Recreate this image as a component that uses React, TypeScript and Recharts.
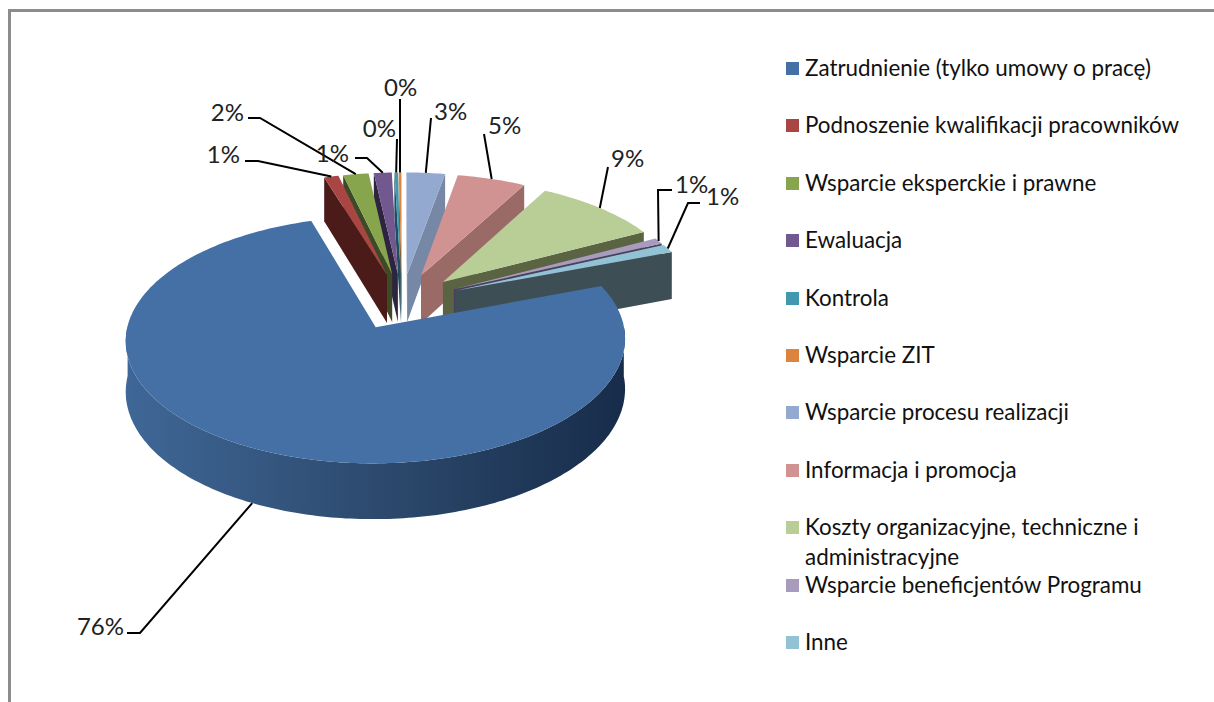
import { PieChart, Pie, Legend } from "recharts";

const categories = [
  "Zatrudnienie (tylko umowy o pracę)",
  "Podnoszenie kwalifikacji pracowników",
  "Wsparcie eksperckie i prawne",
  "Ewaluacja",
  "Kontrola",
  "Wsparcie ZIT",
  "Wsparcie procesu realizacji",
  "Informacja i promocja",
  "Koszty organizacyjne, techniczne i administracyjne",
  "Wsparcie beneficjentów Programu",
  "Inne",
];
const values = [75.9, 1.07, 1.89, 1.33, 0.26, 0.2, 2.86, 5.1, 9.4, 0.82, 1.17];
const topColors = ["#4470a6", "#a94643", "#87a54d", "#71588f", "#4198af", "#db843d", "#93a9cf", "#d19392", "#b9cd96", "#a99bbd", "#92c3d4"];
const sideColors = ["url(#mainWall)", "#4a1b18", "#3c4a25", "#2e2440", "#1f4f5c", "#8a5020", "#7788a6", "#9a6a66", "#5a6443", "#4a4060", "#3e4e55"];

// back slices first, the big one last
const paintOrder = [5, 4, 3, 6, 2, 1, 7, 8, 9, 10, 0];

// hand placed data labels: text position, then the leader elbows
const labelSpots = [
  { x: 124, y: 625, anchor: "end", line: [[127, 633], [140, 633]] },
  { x: 240, y: 153, anchor: "end", line: [[245, 161], [258, 161]] },
  { x: 244, y: 111, anchor: "end", line: [[248, 118], [260, 118]] },
  { x: 349, y: 152, anchor: "end", line: [[355, 158], [367, 158]] },
  { x: 396, y: 127, anchor: "end", line: [[397, 139]] },
  { x: 384, y: 86, anchor: "start", line: [[400, 99]] },
  { x: 434, y: 110, anchor: "start", line: [[431, 118]] },
  { x: 488, y: 124, anchor: "start", line: [[484, 134]] },
  { x: 611, y: 157, anchor: "start", line: [[608, 167]] },
  { x: 675, y: 183, anchor: "start", line: [[672, 190], [658, 190]] },
  { x: 706, y: 195, anchor: "start", line: [[700, 203], [688, 203]] },
];

const chartData = categories.map((name, i) => ({ name, value: values[i], fill: topColors[i] }));

const START_ANGLE = 20.4;
const TILT = 117 / 243; // vertical squash of the pie plane
const PERSPECTIVE = 0.1;
const EXPLODE = 0.24;
const DEPTH = 49;
const RAD = Math.PI / 180;

// pie plane (unit radius) to screen
function project(cx: number, cy: number, r: number, u: number, v: number) {
  const w = 1 / (1 - PERSPECTIVE * v);
  return { x: cx + r * u * w, y: cy + r * TILT * v * w, w };
}

function Slice3D(props: any) {
  const { cx, cy, outerRadius: r, startAngle, endAngle, fill, index } = props;
  const mid = ((startAngle + endAngle) / 2) * RAD;
  const ox = EXPLODE * Math.cos(mid);
  const oy = -EXPLODE * Math.sin(mid);
  const at = (deg: number, k = 1) =>
    project(cx, cy, r, ox + k * Math.cos(deg * RAD), oy - k * Math.sin(deg * RAD));
  const apex = at(0, 0);

  const lo = Math.min(startAngle, endAngle);
  const hi = Math.max(startAngle, endAngle);
  const rim: number[] = [];
  for (let a = hi; a > lo; a -= 1) rim.push(a);
  rim.push(lo);

  const pt = (p: { x: number; y: number }) => `${p.x.toFixed(1)},${p.y.toFixed(1)}`;
  const drop = (p: { x: number; y: number; w: number }) => ({ x: p.x, y: p.y + DEPTH * p.w, w: p.w });
  const top = `M${pt(apex)} L${rim.map((a) => pt(at(a))).join(" L")} Z`;
  const face = (deg: number) => {
    const e = at(deg);
    return `M${pt(apex)} L${pt(e)} L${pt(drop(e))} L${pt(drop(apex))} Z`;
  };

  // outer wall: only the part of the rim that faces the viewer
  const front = rim.filter((a) => Math.sin(a * RAD) <= 0.02);
  const wall =
    front.length > 1
      ? `M${front.map((a) => pt(at(a))).join(" L")} L${[...front].reverse().map((a) => pt(drop(at(a)))).join(" L")} Z`
      : null;

  const side = sideColors[index];
  return (
    <g>
      {Math.cos(hi * RAD) < 0 && <path d={face(hi)} fill={side} />}
      {Math.cos(lo * RAD) > 0 && <path d={face(lo)} fill={side} />}
      {wall && <path d={wall} fill={side} />}
      <path d={top} fill={fill} />
    </g>
  );
}

function SliceLabel(props: any) {
  const { cx, cy, outerRadius: r, midAngle, percent, index } = props;
  const a = midAngle * RAD;
  const ox = (1 + EXPLODE) * Math.cos(a);
  const oy = -(1 + EXPLODE) * Math.sin(a);
  const p = project(cx, cy, r, ox, oy);
  const spot = labelSpots[index];
  const endY = Math.sin(a) < 0 ? p.y + DEPTH * p.w : p.y;
  const points = [...spot.line, [p.x, endY]].map((q) => q.join(",")).join(" ");
  return (
    <g>
      <polyline points={points} fill="none" stroke="#000" strokeWidth={2} />
      <text x={spot.x} y={spot.y} textAnchor={spot.anchor as any} dominantBaseline="central" fontSize={24} fontFamily="Lato" fill="#222">
        {`${Math.round(percent * 100)}%`}
      </text>
    </g>
  );
}

function SideLegend() {
  return (
    <div style={{ fontFamily: "Lato", fontSize: 22.4, color: "#111", width: 400 }}>
      {categories.map((name, i) => (
        <div key={name} style={{ position: "absolute", left: 0, top: i * 57.4, width: 405, lineHeight: "30px" }}>
          <span style={{ position: "absolute", left: 0, top: 9, width: 13, height: 13, background: topColors[i] }} />
          <div style={{ marginLeft: 19, width: 385 }}>{name}</div>
        </div>
      ))}
    </div>
  );
}

export default function App() {
  return (
    <div style={{ position: "absolute", left: 0, top: 0, width: 1214, height: 702, background: "#fff" }}>
      <div style={{ position: "absolute", left: 8, top: 9, width: 1206, height: 693, borderLeft: "3px solid #8c8c8c", borderTop: "3px solid #8c8c8c", boxSizing: "border-box" }} />
      <div style={{ position: "absolute", left: 0, top: 0 }}>
        <PieChart width={1214} height={702} margin={{ top: 0, right: 0, bottom: 0, left: 0 }}>
          <defs>
            <linearGradient id="mainWall" gradientUnits="userSpaceOnUse" x1={125} y1={0} x2={625} y2={0}>
              <stop offset="0" stopColor="#3f6797" />
              <stop offset="0.5" stopColor="#2d4a6e" />
              <stop offset="1" stopColor="#172c4a" />
            </linearGradient>
          </defs>
          {paintOrder.map((idx, n) => (
            <Pie
              key={idx}
              data={chartData}
              dataKey="value"
              nameKey="name"
              cx={402}
              cy={301.5}
              outerRadius={243}
              startAngle={START_ANGLE}
              endAngle={START_ANGLE - 360}
              stroke="none"
              isAnimationActive={false}
              labelLine={false}
              label={n === paintOrder.length - 1 ? SliceLabel : false}
              shape={(p: any) => (p.index === idx ? <Slice3D {...p} /> : <g />)}
            />
          ))}
          <Legend
            layout="vertical"
            align="right"
            verticalAlign="top"
            wrapperStyle={{ left: 786, top: 53, width: 400, right: "auto" }}
            content={<SideLegend />}
          />
        </PieChart>
      </div>
    </div>
  );
}
